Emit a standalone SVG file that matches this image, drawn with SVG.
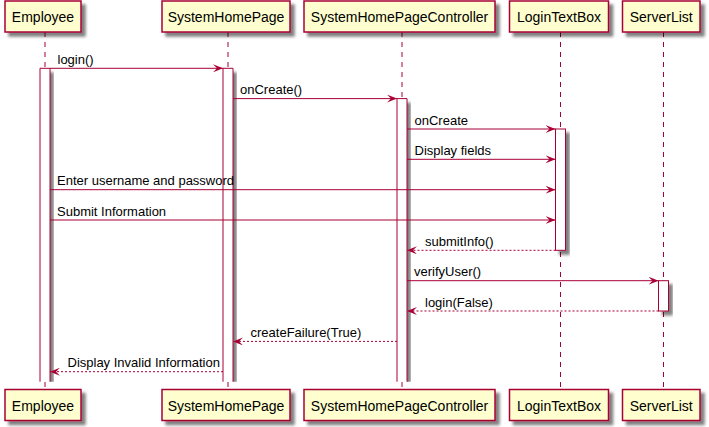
<svg xmlns="http://www.w3.org/2000/svg" width="709" height="427" viewBox="0 0 709 427">
<style>
.box{fill:#FEFECE;stroke:#A80036;stroke-width:1.5;filter:url(#sh)}
.bar{fill:#FFFFFF;stroke:#A80036;stroke-width:1;filter:url(#sh)}
.barbg{fill:#FFFFFF;stroke:none;filter:url(#sh)}
.baredge{fill:none;stroke:#A80036;stroke-width:1}
.life{stroke:#A80036;stroke-width:1;stroke-dasharray:5,5;fill:none}
.pname{font-family:"Liberation Sans",Arial,sans-serif;font-size:14px;fill:#000;text-anchor:middle}
.msg{font-family:"Liberation Sans",Arial,sans-serif;font-size:13px;fill:#000}
.call{stroke:#A80036;stroke-width:1;fill:none;marker-end:url(#ah)}
.ret{stroke:#A80036;stroke-width:1;fill:none;stroke-dasharray:2,2;marker-end:url(#ah)}
</style>
<defs>
<filter id="sh" x="-20%" y="-20%" width="160%" height="160%">
<feGaussianBlur in="SourceAlpha" stdDeviation="1.6" result="b"/>
<feOffset in="b" dx="4" dy="4" result="o"/>
<feComponentTransfer in="o" result="c"><feFuncA type="linear" slope="0.5"/></feComponentTransfer>
<feMerge><feMergeNode in="c"/><feMergeNode in="SourceGraphic"/></feMerge>
</filter>
<clipPath id="cut"><rect x="0" y="0" width="709" height="381.7"/></clipPath>
<marker id="ah" viewBox="0 0 10 8" refX="10" refY="4" markerWidth="10" markerHeight="8" markerUnits="userSpaceOnUse" orient="auto">
<path d="M0,0 L10,4 L0,8 L4,4 Z" fill="#A80036"/>
</marker>
</defs>
<rect width="709" height="427" fill="#FFFFFF"/>
<g id="lifelines">
<line class="life" x1="45" y1="32" x2="45" y2="389.5"/>
<line class="life" x1="228" y1="32" x2="228" y2="389.5"/>
<line class="life" x1="402" y1="32" x2="402" y2="389.5"/>
<line class="life" x1="560.5" y1="32" x2="560.5" y2="389.5"/>
<line class="life" x1="663.5" y1="32" x2="663.5" y2="389.5"/>
</g>
<g id="Employee">
<rect class="box" x="5" y="1" width="76" height="31"/>
<text class="pname" x="43" y="21.5">Employee</text>
<rect class="box" x="5" y="389.5" width="76" height="31"/>
<text class="pname" x="43" y="410.5">Employee</text>
<rect class="barbg" x="40" y="68.3" width="10" height="320" clip-path="url(#cut)"/>
<path class="baredge" d="M40,381.7 V68.3 H50 V381.7"/>
</g>
<g id="SystemHomePage">
<rect class="box" x="162" y="1" width="128" height="31"/>
<text class="pname" x="226" y="21.5">SystemHomePage</text>
<rect class="box" x="162" y="389.5" width="128" height="31"/>
<text class="pname" x="226" y="410.5">SystemHomePage</text>
<rect class="barbg" x="223" y="68.3" width="10" height="320" clip-path="url(#cut)"/>
<path class="baredge" d="M223,381.7 V68.3 H233 V381.7"/>
</g>
<g id="SystemHomePageController">
<rect class="box" x="304" y="1" width="191" height="31"/>
<text class="pname" x="399.5" y="21.5">SystemHomePageController</text>
<rect class="box" x="304" y="389.5" width="191" height="31"/>
<text class="pname" x="399.5" y="410.5">SystemHomePageController</text>
<rect class="barbg" x="397" y="98.6" width="10" height="290" clip-path="url(#cut)"/>
<path class="baredge" d="M397,381.7 V98.6 H407 V381.7"/>
</g>
<g id="LoginTextBox">
<rect class="box" x="509.5" y="1" width="99" height="31"/>
<text class="pname" x="559" y="21.5">LoginTextBox</text>
<rect class="box" x="509.5" y="389.5" width="99" height="31"/>
<text class="pname" x="559" y="410.5">LoginTextBox</text>
<rect class="bar" x="555.5" y="129" width="10" height="121.3"/>
</g>
<g id="ServerList">
<rect class="box" x="622.5" y="1" width="77.5" height="31"/>
<text class="pname" x="661.25" y="21.5">ServerList</text>
<rect class="box" x="622.5" y="389.5" width="77.5" height="31"/>
<text class="pname" x="661.25" y="410.5">ServerList</text>
<rect class="bar" x="658.5" y="280.7" width="10" height="30.3"/>
</g>
<g id="connectors">
<line class="call" x1="50" y1="68.3" x2="223" y2="68.3"/>
<text class="msg" x="57.5" y="63.8">login()</text>
<line class="call" x1="233" y1="98.6" x2="397" y2="98.6"/>
<text class="msg" x="240" y="94.1">onCreate()</text>
<line class="call" x1="407" y1="129" x2="555.5" y2="129"/>
<text class="msg" x="414.5" y="124.5">onCreate</text>
<line class="call" x1="407" y1="159.3" x2="555.5" y2="159.3"/>
<text class="msg" x="414.5" y="154.8">Display fields</text>
<line class="call" x1="50" y1="189.7" x2="555.5" y2="189.7"/>
<text class="msg" x="57" y="185.2">Enter username and password</text>
<line class="call" x1="50" y1="220" x2="555.5" y2="220"/>
<text class="msg" x="57" y="215.5">Submit Information</text>
<line class="ret" x1="555.5" y1="250.3" x2="407" y2="250.3"/>
<text class="msg" x="425" y="245.8">submitInfo()</text>
<line class="call" x1="407" y1="280.7" x2="658.5" y2="280.7"/>
<text class="msg" x="414" y="276.2">verifyUser()</text>
<line class="ret" x1="658.5" y1="311" x2="407" y2="311"/>
<text class="msg" x="425" y="306.5">login(False)</text>
<line class="ret" x1="397" y1="341.4" x2="233" y2="341.4"/>
<text class="msg" x="250.5" y="336.9">createFailure(True)</text>
<line class="ret" x1="223" y1="371.7" x2="50" y2="371.7"/>
<text class="msg" x="67.5" y="367.2">Display Invalid Information</text>
</g>
</svg>
